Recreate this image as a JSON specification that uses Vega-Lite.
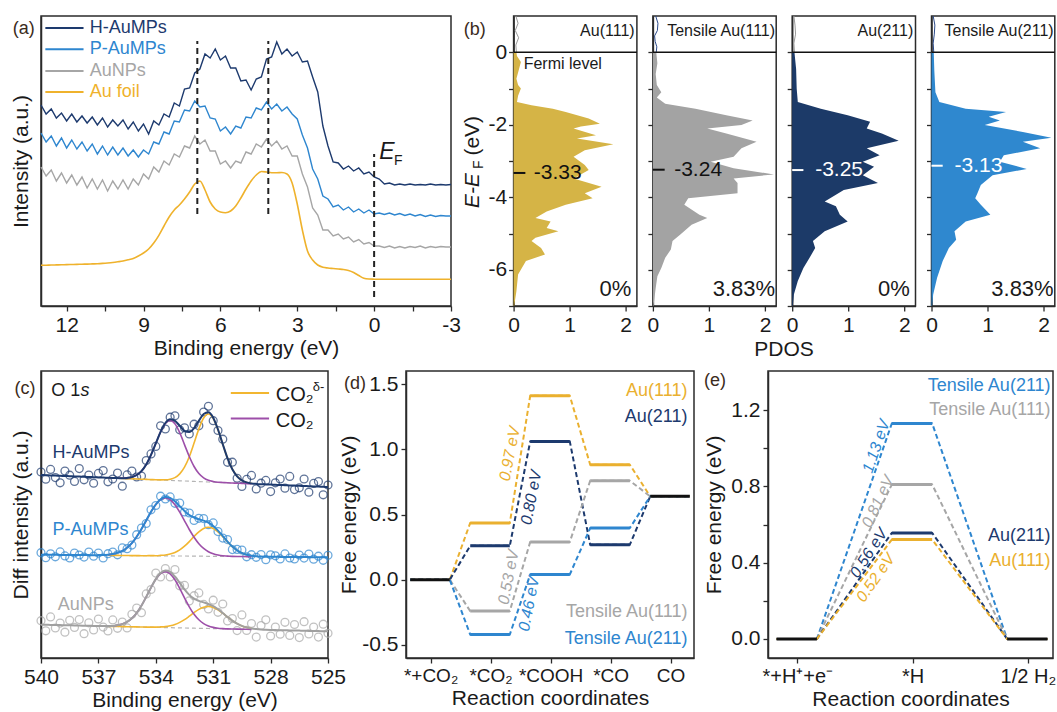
{
"$schema": "https://vega.github.io/schema/vega-lite/v6.json",
"padding": {"left": 9, "top": 13, "right": 0, "bottom": 0},
"background": "white",
"config": {
 "font": "Liberation Sans",
 "view": {"stroke": "#2b2b2b", "strokeWidth": 1.5},
 "axis": {"labelFontSize": 21, "titleFontSize": 21, "titleFontWeight": "normal", "labelColor": "#1a1a1a", "titleColor": "#1a1a1a", "domainColor": "#2b2b2b", "domainWidth": 1.5, "tickColor": "#2b2b2b", "tickWidth": 1.3, "tickSize": 5, "grid": false, "labelPadding": 3, "titlePadding": 2, "labelFlush": false, "labelOverlap": false},
 "text": {"font": "Liberation Sans"}
},
"datasets": {
 "aSpec": [
  {"x":13.0,"h":201,"p":173,"n":139,"f":40.7},{"x":12.8,"h":192,"p":164,"n":130,"f":40.8},{"x":12.6,"h":197,"p":170,"n":136,"f":41.0},{"x":12.4,"h":188,"p":160,"n":125,"f":41.1},{"x":12.2,"h":193,"p":168,"n":133,"f":41.2},{"x":12.0,"h":185,"p":158,"n":123,"f":41.4},{"x":11.8,"h":192,"p":166,"n":131,"f":41.5},{"x":11.6,"h":184,"p":157,"n":121,"f":41.6},{"x":11.4,"h":190,"p":164,"n":129,"f":41.8},{"x":11.2,"h":183,"p":155,"n":118,"f":41.9},
  {"x":11.0,"h":189,"p":162,"n":127,"f":42.1},{"x":10.8,"h":181,"p":152,"n":117,"f":42.3},{"x":10.6,"h":188,"p":160,"n":126,"f":42.6},{"x":10.4,"h":179,"p":151,"n":115,"f":43.0},{"x":10.2,"h":186,"p":159,"n":125,"f":43.5},{"x":10.0,"h":180,"p":151,"n":117,"f":44.2},{"x":9.8,"h":186,"p":158,"n":126,"f":45.0},{"x":9.6,"h":177,"p":150,"n":117,"f":46.2},{"x":9.4,"h":184,"p":156,"n":127,"f":47.6},{"x":9.2,"h":175,"p":149,"n":121,"f":50},
  {"x":9.0,"h":182,"p":156,"n":132,"f":53},{"x":8.8,"h":172,"p":152,"n":127,"f":57},{"x":8.6,"h":185,"p":164,"n":139,"f":63},{"x":8.4,"h":181,"p":162,"n":134,"f":70.7},{"x":8.2,"h":192,"p":174,"n":145,"f":80},{"x":8.0,"h":189,"p":172,"n":141,"f":89},{"x":7.8,"h":203,"p":185,"n":152,"f":96},{"x":7.6,"h":200,"p":184,"n":149,"f":101},{"x":7.4,"h":217,"p":196,"n":160,"f":107},{"x":7.2,"h":218,"p":195,"n":158,"f":114},
  {"x":7.0,"h":233,"p":205,"n":170,"f":122},{"x":6.8,"h":237,"p":199,"n":162,"f":125},{"x":6.6,"h":252,"p":200,"n":166,"f":116},{"x":6.4,"h":248,"p":188,"n":155,"f":104},{"x":6.2,"h":257,"p":187,"n":155,"f":97},{"x":6.0,"h":246,"p":175,"n":142,"f":94},{"x":5.8,"h":250,"p":179,"n":145,"f":93.3},{"x":5.6,"h":238,"p":172,"n":138,"f":95},{"x":5.4,"h":238,"p":180,"n":145,"f":100},{"x":5.2,"h":225,"p":178,"n":143,"f":108},
  {"x":5.0,"h":226,"p":189,"n":154,"f":117},{"x":4.8,"h":216,"p":188,"n":152,"f":125},{"x":4.6,"h":227,"p":198,"n":162,"f":131},{"x":4.4,"h":229,"p":196,"n":159,"f":134.5},{"x":4.2,"h":247,"p":204,"n":167,"f":134},{"x":4.0,"h":249,"p":197,"n":160,"f":133.3},{"x":3.8,"h":264,"p":202,"n":165,"f":133.3},{"x":3.6,"h":252,"p":195,"n":157,"f":133.5},{"x":3.4,"h":257,"p":199,"n":160,"f":132},{"x":3.2,"h":250,"p":192,"n":150,"f":123},
  {"x":3.0,"h":254,"p":187,"n":150,"f":102},{"x":2.8,"h":244,"p":171,"n":132,"f":76},{"x":2.6,"h":245,"p":158,"n":119,"f":55},{"x":2.4,"h":229,"p":137,"n":98,"f":46},{"x":2.2,"h":214,"p":127,"n":91,"f":41},{"x":2.0,"h":180,"p":110,"n":76,"f":38.8},{"x":1.8,"h":160,"p":107,"n":76,"f":38},{"x":1.6,"h":144,"p":99,"n":70,"f":37.5},{"x":1.4,"h":143,"p":101,"n":72,"f":37},{"x":1.2,"h":137,"p":96,"n":67,"f":36.5},
  {"x":1.0,"h":140,"p":99,"n":69,"f":35.5},{"x":0.8,"h":135,"p":94,"n":64,"f":33.5},{"x":0.6,"h":138,"p":97,"n":66.5,"f":30.5},{"x":0.4,"h":132,"p":93,"n":62,"f":27.8},{"x":0.2,"h":134,"p":96,"n":63.5,"f":27},{"x":0.0,"h":129,"p":92,"n":60,"f":26.8},{"x":-0.2,"h":127,"p":93,"n":60,"f":26.7},{"x":-0.4,"h":122,"p":91.5,"n":58.5,"f":26.7},{"x":-0.6,"h":123,"p":93,"n":60,"f":26.7},{"x":-0.8,"h":121,"p":91,"n":58,"f":26.7},
  {"x":-1.0,"h":122,"p":92.5,"n":59.5,"f":26.7},{"x":-1.2,"h":121,"p":90.5,"n":58,"f":26.7},{"x":-1.4,"h":122,"p":92,"n":59.5,"f":26.7},{"x":-1.6,"h":121,"p":90,"n":58.5,"f":26.7},{"x":-1.8,"h":121.5,"p":91.5,"n":60,"f":26.7},{"x":-2.0,"h":121,"p":89.5,"n":58,"f":26.7},{"x":-2.2,"h":122,"p":91,"n":59.5,"f":26.7},{"x":-2.4,"h":121,"p":89.5,"n":58.5,"f":26.7},{"x":-2.6,"h":121.5,"p":90.5,"n":59.5,"f":26.7},{"x":-2.8,"h":121,"p":90,"n":59,"f":26.7},{"x":-3.0,"h":121.5,"p":90,"n":59,"f":26.7}
 ],
 "bDos": [
  {"p":"b1","e":1.0,"v":0.04},{"p":"b1","e":0.8,"v":0.08},{"p":"b1","e":0.6,"v":0.03},{"p":"b1","e":0.4,"v":0.09},{"p":"b1","e":0.2,"v":0.04},{"p":"b1","e":0.0,"v":0.05},{"p":"b1","e":-0.1,"v":0.06},{"p":"b1","e":-0.27,"v":0.13},{"p":"b1","e":-0.5,"v":0.09},{"p":"b1","e":-0.73,"v":0.05},{"p":"b1","e":-0.9,"v":0.08},{"p":"b1","e":-1.0,"v":0.13},{"p":"b1","e":-1.2,"v":0.08},{"p":"b1","e":-1.37,"v":0.06},{"p":"b1","e":-1.46,"v":0.32},{"p":"b1","e":-1.56,"v":0.7},{"p":"b1","e":-1.65,"v":0.93},{"p":"b1","e":-1.83,"v":1.34},{"p":"b1","e":-1.97,"v":1.54},{"p":"b1","e":-2.05,"v":1.2},{"p":"b1","e":-2.1,"v":1.07},{"p":"b1","e":-2.29,"v":1.47},{"p":"b1","e":-2.38,"v":1.13},{"p":"b1","e":-2.54,"v":1.78},{"p":"b1","e":-2.7,"v":1.27},{"p":"b1","e":-2.88,"v":1.07},{"p":"b1","e":-3.11,"v":1.27},{"p":"b1","e":-3.25,"v":1.34},{"p":"b1","e":-3.48,"v":1.07},{"p":"b1","e":-3.71,"v":1.57},{"p":"b1","e":-3.89,"v":1.27},{"p":"b1","e":-4.03,"v":1.41},{"p":"b1","e":-4.21,"v":0.93},{"p":"b1","e":-4.39,"v":0.59},{"p":"b1","e":-4.57,"v":0.39},{"p":"b1","e":-4.67,"v":0.66},{"p":"b1","e":-4.85,"v":0.59},{"p":"b1","e":-4.94,"v":0.8},{"p":"b1","e":-5.12,"v":0.39},{"p":"b1","e":-5.21,"v":0.32},{"p":"b1","e":-5.4,"v":0.49},{"p":"b1","e":-5.58,"v":0.56},{"p":"b1","e":-5.76,"v":0.22},{"p":"b1","e":-6.13,"v":0.08},{"p":"b1","e":-6.59,"v":0.05},{"p":"b1","e":-7.0,"v":0.01},
  {"p":"b2","e":1.0,"v":0.05},{"p":"b2","e":0.8,"v":0.09},{"p":"b2","e":0.6,"v":0.08},{"p":"b2","e":0.45,"v":0.03},{"p":"b2","e":0.3,"v":0.04},{"p":"b2","e":0.15,"v":0.07},{"p":"b2","e":0.0,"v":0.06},{"p":"b2","e":-0.3,"v":0.08},{"p":"b2","e":-0.6,"v":0.05},{"p":"b2","e":-0.9,"v":0.07},{"p":"b2","e":-1.1,"v":0.15},{"p":"b2","e":-1.25,"v":0.07},{"p":"b2","e":-1.42,"v":0.22},{"p":"b2","e":-1.56,"v":0.76},{"p":"b2","e":-1.74,"v":1.31},{"p":"b2","e":-1.88,"v":1.78},{"p":"b2","e":-2.01,"v":1.58},{"p":"b2","e":-2.1,"v":0.97},{"p":"b2","e":-2.24,"v":1.31},{"p":"b2","e":-2.47,"v":1.85},{"p":"b2","e":-2.65,"v":1.58},{"p":"b2","e":-2.88,"v":1.44},{"p":"b2","e":-3.02,"v":1.03},{"p":"b2","e":-3.2,"v":1.44},{"p":"b2","e":-3.37,"v":2.16},{"p":"b2","e":-3.48,"v":1.44},{"p":"b2","e":-3.61,"v":1.51},{"p":"b2","e":-3.89,"v":1.51},{"p":"b2","e":-4.03,"v":0.63},{"p":"b2","e":-4.21,"v":0.56},{"p":"b2","e":-4.48,"v":0.83},{"p":"b2","e":-4.57,"v":0.97},{"p":"b2","e":-4.76,"v":0.69},{"p":"b2","e":-5.03,"v":0.49},{"p":"b2","e":-5.21,"v":0.35},{"p":"b2","e":-5.44,"v":0.32},{"p":"b2","e":-5.67,"v":0.22},{"p":"b2","e":-5.95,"v":0.15},{"p":"b2","e":-6.18,"v":0.08},{"p":"b2","e":-6.5,"v":0.05},{"p":"b2","e":-7.0,"v":0.01},
  {"p":"b3","e":1.0,"v":0.03},{"p":"b3","e":0.75,"v":0.05},{"p":"b3","e":0.5,"v":0.06},{"p":"b3","e":0.25,"v":0.03},{"p":"b3","e":0.0,"v":0.04},{"p":"b3","e":-0.46,"v":0.07},{"p":"b3","e":-1.0,"v":0.08},{"p":"b3","e":-1.37,"v":0.1},{"p":"b3","e":-1.56,"v":0.51},{"p":"b3","e":-1.74,"v":0.99},{"p":"b3","e":-1.92,"v":1.39},{"p":"b3","e":-2.1,"v":1.33},{"p":"b3","e":-2.24,"v":1.6},{"p":"b3","e":-2.44,"v":1.9},{"p":"b3","e":-2.65,"v":1.33},{"p":"b3","e":-2.84,"v":1.56},{"p":"b3","e":-3.02,"v":1.26},{"p":"b3","e":-3.16,"v":1.46},{"p":"b3","e":-3.39,"v":1.26},{"p":"b3","e":-3.61,"v":1.53},{"p":"b3","e":-3.8,"v":0.92},{"p":"b3","e":-3.93,"v":0.78},{"p":"b3","e":-4.12,"v":0.58},{"p":"b3","e":-4.25,"v":0.78},{"p":"b3","e":-4.48,"v":0.85},{"p":"b3","e":-4.67,"v":0.99},{"p":"b3","e":-4.94,"v":0.58},{"p":"b3","e":-5.21,"v":0.37},{"p":"b3","e":-5.4,"v":0.41},{"p":"b3","e":-5.67,"v":0.31},{"p":"b3","e":-5.95,"v":0.2},{"p":"b3","e":-6.31,"v":0.1},{"p":"b3","e":-6.68,"v":0.03},{"p":"b3","e":-7.0,"v":0.01},
  {"p":"b4","e":1.0,"v":0.03},{"p":"b4","e":0.75,"v":0.06},{"p":"b4","e":0.5,"v":0.05},{"p":"b4","e":0.25,"v":0.03},{"p":"b4","e":0.0,"v":0.04},{"p":"b4","e":-0.5,"v":0.05},{"p":"b4","e":-1.1,"v":0.07},{"p":"b4","e":-1.37,"v":0.14},{"p":"b4","e":-1.56,"v":0.61},{"p":"b4","e":-1.65,"v":1.33},{"p":"b4","e":-1.78,"v":1.02},{"p":"b4","e":-1.88,"v":1.22},{"p":"b4","e":-2.01,"v":0.95},{"p":"b4","e":-2.2,"v":1.63},{"p":"b4","e":-2.36,"v":2.14},{"p":"b4","e":-2.47,"v":1.63},{"p":"b4","e":-2.65,"v":1.94},{"p":"b4","e":-2.84,"v":1.29},{"p":"b4","e":-3.02,"v":1.22},{"p":"b4","e":-3.22,"v":1.7},{"p":"b4","e":-3.39,"v":1.09},{"p":"b4","e":-3.66,"v":0.88},{"p":"b4","e":-3.89,"v":0.82},{"p":"b4","e":-4.03,"v":0.78},{"p":"b4","e":-4.21,"v":0.88},{"p":"b4","e":-4.48,"v":1.05},{"p":"b4","e":-4.67,"v":0.61},{"p":"b4","e":-4.94,"v":0.41},{"p":"b4","e":-5.17,"v":0.44},{"p":"b4","e":-5.4,"v":0.31},{"p":"b4","e":-5.76,"v":0.2},{"p":"b4","e":-6.22,"v":0.1},{"p":"b4","e":-6.68,"v":0.03},{"p":"b4","e":-7.0,"v":0.01}
 ],
 "cData": [
  {"x":540,"hf":183.0,"ho":186,"pf":103.3,"po":105.3,"nf":33.3,"no":37.3},
  {"x":539.75,"hf":182.8,"ho":178.8,"pf":103.3,"po":100.3,"nf":33.2,"no":27.2},
  {"x":539.5,"hf":182.6,"ho":188.6,"pf":103.2,"po":104.2,"nf":33.1,"no":41.1},
  {"x":539.25,"hf":182.4,"ho":180.4,"pf":103.2,"po":101.2,"nf":33.0,"no":30.0},
  {"x":539,"hf":182.2,"ho":175.2,"pf":103.1,"po":106.1,"nf":32.9,"no":34.9},
  {"x":538.75,"hf":182.0,"ho":187,"pf":103.1,"po":102.1,"nf":32.8,"no":25.8},
  {"x":538.5,"hf":181.8,"ho":182.8,"pf":103.0,"po":100.0,"nf":32.7,"no":37.7},
  {"x":538.25,"hf":181.6,"ho":176.6,"pf":103.0,"po":105.0,"nf":32.6,"no":30.6},
  {"x":538,"hf":181.4,"ho":189.4,"pf":103.0,"po":103.0,"nf":32.4,"no":38.4},
  {"x":537.75,"hf":181.2,"ho":178.2,"pf":102.9,"po":100.9,"nf":32.3,"no":24.3},
  {"x":537.5,"hf":181.0,"ho":183,"pf":102.9,"po":105.9,"nf":32.2,"no":35.2},
  {"x":537.25,"hf":180.8,"ho":174.8,"pf":102.8,"po":101.8,"nf":32.1,"no":28.1},
  {"x":537,"hf":180.6,"ho":184.6,"pf":102.9,"po":104.9,"nf":32.0,"no":39.0},
  {"x":536.75,"hf":180.4,"ho":187.4,"pf":103.0,"po":100.0,"nf":31.9,"no":30.9},
  {"x":536.5,"hf":180.2,"ho":176.2,"hc":180.2,"hd":180.2,"hb":180.2,"pf":103.3,"po":104.3,"pc":103.3,"pd":102.7,"pb":102.7,"nf":32.0,"no":27.0,"nc":32.0,"nd":31.8,"nb":31.8},
  {"x":536.25,"hf":180.0,"ho":179,"hc":180.0,"hd":180.0,"hb":180.0,"pf":103.9,"po":105.9,"pc":103.9,"pd":102.6,"pb":102.6,"nf":32.1,"no":38.1,"nc":32.1,"nd":31.6,"nb":31.6},
  {"x":536,"hf":179.9,"ho":184.9,"hc":179.9,"hd":179.8,"hb":179.8,"pf":105.2,"po":103.2,"pc":105.2,"pd":102.6,"pb":102.6,"nf":32.7,"no":29.7,"nc":32.7,"nd":31.5,"nb":31.5},
  {"x":535.75,"hf":179.8,"ho":171.8,"hc":179.8,"hd":179.6,"hb":179.6,"pf":107.1,"po":110.1,"pc":107.1,"pd":102.5,"pb":102.5,"nf":33.9,"no":35.9,"nc":33.9,"nd":31.4,"nb":31.4},
  {"x":535.5,"hf":180.1,"ho":183.1,"hc":180.1,"hd":179.4,"hb":179.4,"pf":110.3,"po":109.3,"pc":110.3,"pd":102.5,"pb":102.5,"nf":36.1,"no":30.1,"nc":36.1,"nd":31.3,"nb":31.3},
  {"x":535.25,"hf":180.9,"ho":186.9,"hc":180.9,"hd":179.2,"hb":179.2,"pf":114.9,"po":112.9,"pc":114.9,"pd":102.4,"pb":102.4,"nf":39.7,"no":43.7,"nc":39.7,"nd":31.2,"nb":31.2},
  {"x":535,"hf":183.0,"ho":181,"hc":183.0,"hd":179.0,"hb":179.0,"pf":121.3,"po":123.3,"pc":121.3,"pd":102.4,"pb":102.4,"nf":45.0,"no":50.0,"nc":45.0,"nd":31.1,"nb":31.1},
  {"x":534.75,"hf":186.9,"ho":181.9,"hc":186.9,"hd":178.8,"hb":178.8,"pf":128.9,"po":129.9,"pc":128.9,"pd":102.3,"pb":102.3,"nf":52.3,"no":45.3,"nc":52.3,"nd":31.0,"nb":31.0},
  {"x":534.5,"hf":193.5,"ho":197.5,"hc":193.5,"hd":178.6,"hb":178.6,"pf":137.5,"po":134.5,"pc":137.5,"pd":102.3,"pb":102.3,"nf":61.1,"no":64.1,"nc":61.1,"nd":30.9,"nb":30.9},
  {"x":534.25,"hf":203.1,"ho":204.1,"hc":203.1,"hd":178.4,"hb":178.4,"pf":146.2,"po":148.2,"pc":146.1,"pd":102.4,"pb":102.3,"nf":70.5,"no":68.5,"nc":70.4,"nd":30.9,"nb":30.8},
  {"x":534,"hf":214.6,"ho":211.6,"hc":214.6,"hd":178.2,"hb":178.2,"pf":153.5,"po":152.5,"pc":153.4,"pd":102.3,"pb":102.2,"nf":78.9,"no":84.9,"nc":78.7,"nd":30.9,"nb":30.7},
  {"x":533.75,"hf":226.2,"ho":232.2,"hc":226.1,"hd":178.1,"hb":178.0,"pf":158.8,"po":161.8,"pc":158.4,"pd":102.6,"pb":102.2,"nf":85.0,"no":81.0,"nc":84.5,"nd":31.1,"nb":30.6},
  {"x":533.5,"hf":235.0,"ho":229,"hc":234.6,"hd":178.2,"hb":177.8,"pf":161.0,"po":159.0,"pc":160.1,"pd":103.0,"pb":102.1,"nf":87.4,"no":89.4,"nc":86.4,"nd":31.4,"nb":30.4},
  {"x":533.25,"hf":238.8,"ho":240.8,"hc":237.6,"hd":178.8,"hb":177.6,"pf":160.1,"po":161.1,"pc":158.3,"pd":103.9,"pb":102.1,"nf":86.1,"no":81.1,"nc":84.2,"nd":32.2,"nb":30.3},
  {"x":533,"hf":237.2,"ho":242.2,"hc":234.2,"hd":180.4,"hb":177.4,"pf":156.7,"po":154.7,"pc":153.2,"pd":105.5,"pb":102.0,"nf":81.5,"no":88.5,"nc":78.2,"nd":33.5,"nb":30.2},
  {"x":532.75,"hf":232.2,"ho":228.2,"hc":225.3,"hd":184.1,"hb":177.2,"pf":151.9,"po":154.9,"pc":145.8,"pd":108.1,"pb":102.0,"nf":75.2,"no":72.2,"nc":69.7,"nd":35.6,"nb":30.1},
  {"x":532.5,"hf":227.2,"ho":230.2,"hc":213.4,"hd":190.8,"hb":177.0,"pf":147.0,"po":146.0,"pc":137.2,"pd":111.8,"pb":102.0,"nf":68.6,"no":72.6,"nc":60.2,"nd":38.4,"nb":30.0},
  {"x":532.25,"hf":226.0,"ho":224,"hc":201.5,"hd":201.3,"hb":176.8,"pf":143.0,"po":145.0,"pc":128.5,"pd":116.4,"pb":101.9,"nf":63.1,"no":57.1,"nc":51.2,"nd":41.8,"nb":29.9},
  {"x":532,"hf":229.8,"ho":233.8,"hc":191.5,"hd":214.9,"hb":176.6,"pf":140.5,"po":137.5,"pc":120.8,"pd":121.6,"pb":101.9,"nf":59.3,"no":62.3,"nc":43.7,"nd":45.4,"nb":29.8},
  {"x":531.75,"hf":237.2,"ho":232.2,"hc":184.5,"hd":229.1,"hb":176.4,"pf":138.7,"po":139.7,"pc":114.3,"pd":126.2,"pb":101.8,"nf":57.1,"no":65.1,"nc":38.2,"nd":48.6,"nb":29.7},
  {"x":531.5,"hf":244.0,"ho":246,"hc":180.2,"hd":240.0,"hb":176.2,"pf":137.4,"po":139.4,"pc":109.6,"pd":129.6,"pb":101.8,"nf":55.6,"no":53.6,"nc":34.4,"nd":50.8,"nb":29.6},
  {"x":531.25,"hf":245.7,"ho":251.7,"hc":177.7,"hd":244.0,"hb":176.0,"pf":135.3,"po":133.3,"pc":106.3,"pd":130.7,"pb":101.7,"nf":54.0,"no":49.0,"nc":32.0,"nd":51.5,"nb":29.5},
  {"x":531,"hf":240.3,"ho":237.3,"hc":176.5,"hd":239.6,"hb":175.8,"pf":132.1,"po":135.1,"pc":104.3,"pd":129.5,"pb":101.7,"nf":51.8,"no":57.8,"nc":30.6,"nd":50.6,"nb":29.4},
  {"x":530.75,"hf":228.5,"ho":227.5,"hc":175.8,"hd":228.3,"hb":175.6,"pf":127.4,"po":126.4,"pc":103.0,"pd":126.1,"pb":101.7,"nf":48.7,"no":45.7,"nc":29.8,"nd":48.2,"nb":29.3},
  {"x":530.5,"hf":213.8,"ho":218.8,"hc":175.5,"hd":213.7,"hb":175.4,"pf":121.9,"po":119.9,"pc":102.2,"pd":121.3,"pb":101.6,"nf":45.0,"no":54.0,"nc":29.4,"nd":44.8,"nb":29.2},
  {"x":530.25,"hf":199.7,"ho":195.7,"hc":175.2,"hd":199.7,"hb":175.2,"pf":116.4,"po":118.4,"pc":101.9,"pd":116.1,"pb":101.6,"nf":41.0,"no":37.0,"nc":29.1,"nd":41.0,"nb":29.1},
  {"x":530,"hf":188.8,"ho":195.8,"hc":175.0,"hd":188.8,"hb":175.0,"pf":111.4,"po":108.4,"pc":101.6,"pd":111.3,"pb":101.5,"nf":37.4,"no":39.4,"nc":29.0,"nd":37.4,"nb":29.0},
  {"x":529.75,"hf":181.7,"ho":179.7,"hc":174.8,"hd":181.7,"hb":174.8,"pf":107.6,"po":108.6,"pc":101.5,"pd":107.6,"pb":101.5,"nf":34.4,"no":27.4,"nc":28.9,"nd":34.4,"nb":28.9},
  {"x":529.5,"hf":177.6,"ho":171.6,"hc":174.6,"hd":177.6,"hb":174.6,"pf":105.0,"po":108.0,"pc":101.5,"pd":105.0,"pb":101.5,"nf":32.1,"no":43.1,"nc":28.8,"nd":32.1,"nb":28.8},
  {"x":529.25,"hf":175.6,"ho":178.6,"hc":174.4,"hd":175.6,"hb":174.4,"pf":103.2,"po":101.2,"pc":101.4,"pd":103.2,"pb":101.4,"nf":30.6,"no":27.6,"nc":28.7,"nd":30.6,"nb":28.7},
  {"x":529,"hf":174.6,"ho":182.6,"hc":174.2,"hd":174.6,"hb":174.2,"pf":102.3,"po":103.3,"pc":101.4,"pd":102.3,"pb":101.4,"nf":29.5,"no":34.5,"nc":28.5,"nd":29.5,"nb":28.5},
  {"x":528.75,"hf":174.1,"ho":169.1,"pf":101.7,"po":100.7,"nf":28.9,"no":20.9},
  {"x":528.5,"hf":173.8,"ho":174.8,"pf":101.4,"po":103.4,"nf":28.5,"no":32.5},
  {"x":528.25,"hf":173.6,"ho":177.6,"pf":101.3,"po":98.3,"nf":28.2,"no":38.2},
  {"x":528,"hf":173.4,"ho":166.4,"pf":101.2,"po":103.2,"nf":28.0,"no":22.0},
  {"x":527.75,"hf":173.2,"ho":175.2,"pf":101.2,"po":102.2,"nf":27.9,"no":30.9},
  {"x":527.5,"hf":173.0,"ho":179,"pf":101.1,"po":99.1,"nf":27.8,"no":23.8},
  {"x":527.25,"hf":172.8,"ho":169.8,"pf":101.1,"po":104.1,"nf":27.7,"no":35.7},
  {"x":527,"hf":172.6,"ho":181.6,"pf":101.0,"po":100.0,"nf":27.6,"no":22.6},
  {"x":526.75,"hf":172.4,"ho":168.4,"pf":101.0,"po":99.0,"nf":27.5,"no":33.5},
  {"x":526.5,"hf":172.2,"ho":170.2,"pf":101.0,"po":103.0,"nf":27.4,"no":20.4},
  {"x":526.25,"hf":172.0,"ho":179,"pf":100.9,"po":99.9,"nf":27.3,"no":36.3},
  {"x":526,"hf":171.8,"ho":165.8,"pf":100.9,"po":103.9,"nf":27.1,"no":24.1},
  {"x":525.75,"hf":171.6,"ho":174.6,"pf":100.8,"po":98.8,"nf":27.0,"no":31.0},
  {"x":525.5,"hf":171.4,"ho":176.4,"pf":100.8,"po":101.8,"nf":26.9,"no":20.9},
  {"x":525.25,"hf":171.2,"ho":163.2,"pf":100.7,"po":97.7,"nf":26.8,"no":33.8},
  {"x":525,"hf":171.0,"ho":173,"pf":100.7,"po":102.7,"nf":26.7,"no":24.7}
 ],
 "dPts": [
  {"s":"Au(111)","lv":0,"x":-0.34,"g":0},{"s":"Au(111)","lv":0,"x":0.32,"g":0},{"s":"Au(111)","lv":1,"x":0.66,"g":0.435},{"s":"Au(111)","lv":1,"x":1.32,"g":0.435},{"s":"Au(111)","lv":2,"x":1.66,"g":1.41},{"s":"Au(111)","lv":2,"x":2.32,"g":1.41},{"s":"Au(111)","lv":3,"x":2.66,"g":0.882},{"s":"Au(111)","lv":3,"x":3.32,"g":0.882},{"s":"Au(111)","lv":4,"x":3.66,"g":0.639},{"s":"Au(111)","lv":4,"x":4.32,"g":0.639},
  {"s":"Au(211)","lv":0,"x":-0.34,"g":0},{"s":"Au(211)","lv":0,"x":0.32,"g":0},{"s":"Au(211)","lv":1,"x":0.66,"g":0.26},{"s":"Au(211)","lv":1,"x":1.32,"g":0.26},{"s":"Au(211)","lv":2,"x":1.66,"g":1.06},{"s":"Au(211)","lv":2,"x":2.32,"g":1.06},{"s":"Au(211)","lv":3,"x":2.66,"g":0.268},{"s":"Au(211)","lv":3,"x":3.32,"g":0.268},{"s":"Au(211)","lv":4,"x":3.66,"g":0.639},{"s":"Au(211)","lv":4,"x":4.32,"g":0.639},
  {"s":"Tensile Au(111)","lv":0,"x":-0.34,"g":0},{"s":"Tensile Au(111)","lv":0,"x":0.32,"g":0},{"s":"Tensile Au(111)","lv":1,"x":0.66,"g":-0.24},{"s":"Tensile Au(111)","lv":1,"x":1.32,"g":-0.24},{"s":"Tensile Au(111)","lv":2,"x":1.66,"g":0.29},{"s":"Tensile Au(111)","lv":2,"x":2.32,"g":0.29},{"s":"Tensile Au(111)","lv":3,"x":2.66,"g":0.759},{"s":"Tensile Au(111)","lv":3,"x":3.32,"g":0.759},{"s":"Tensile Au(111)","lv":4,"x":3.66,"g":0.639},{"s":"Tensile Au(111)","lv":4,"x":4.32,"g":0.639},
  {"s":"Tensile Au(211)","lv":0,"x":-0.34,"g":0},{"s":"Tensile Au(211)","lv":0,"x":0.32,"g":0},{"s":"Tensile Au(211)","lv":1,"x":0.66,"g":-0.42},{"s":"Tensile Au(211)","lv":1,"x":1.32,"g":-0.42},{"s":"Tensile Au(211)","lv":2,"x":1.66,"g":0.04},{"s":"Tensile Au(211)","lv":2,"x":2.32,"g":0.04},{"s":"Tensile Au(211)","lv":3,"x":2.66,"g":0.396},{"s":"Tensile Au(211)","lv":3,"x":3.32,"g":0.396},{"s":"Tensile Au(211)","lv":4,"x":3.66,"g":0.639},{"s":"Tensile Au(211)","lv":4,"x":4.32,"g":0.639}
 ],
 "ePts": [
  {"s":"Tensile Au(211)","lv":0,"x":-0.18,"g":0},{"s":"Tensile Au(211)","lv":0,"x":0.17,"g":0},{"s":"Tensile Au(211)","lv":1,"x":0.82,"g":1.13},{"s":"Tensile Au(211)","lv":1,"x":1.17,"g":1.13},{"s":"Tensile Au(211)","lv":2,"x":1.82,"g":0},{"s":"Tensile Au(211)","lv":2,"x":2.17,"g":0},
  {"s":"Tensile Au(111)","lv":0,"x":-0.18,"g":0},{"s":"Tensile Au(111)","lv":0,"x":0.17,"g":0},{"s":"Tensile Au(111)","lv":1,"x":0.82,"g":0.81},{"s":"Tensile Au(111)","lv":1,"x":1.17,"g":0.81},{"s":"Tensile Au(111)","lv":2,"x":1.82,"g":0},{"s":"Tensile Au(111)","lv":2,"x":2.17,"g":0},
  {"s":"Au(211)","lv":0,"x":-0.18,"g":0},{"s":"Au(211)","lv":0,"x":0.17,"g":0},{"s":"Au(211)","lv":1,"x":0.82,"g":0.556},{"s":"Au(211)","lv":1,"x":1.17,"g":0.556},{"s":"Au(211)","lv":2,"x":1.82,"g":0},{"s":"Au(211)","lv":2,"x":2.17,"g":0},
  {"s":"Au(111)","lv":0,"x":-0.18,"g":0},{"s":"Au(111)","lv":0,"x":0.17,"g":0},{"s":"Au(111)","lv":1,"x":0.82,"g":0.521},{"s":"Au(111)","lv":1,"x":1.17,"g":0.521},{"s":"Au(111)","lv":2,"x":1.82,"g":0},{"s":"Au(111)","lv":2,"x":2.17,"g":0}
 ]
},
"spacing": 9,
"vconcat": [
 {"bounds": "flush", "spacing": 15.3, "hconcat": [
  {"width": 410, "height": 290, "layer": [
   {"data": {"name": "aSpec"}, "mark": {"type": "line", "color": "#efb22c", "strokeWidth": 1.6, "interpolate": "monotone"},
    "encoding": {
     "x": {"field": "x", "type": "quantitative", "scale": {"domain": [-3, 13], "reverse": true, "nice": false, "zero": false}, "axis": {"title": "Binding energy (eV)", "values": [12, 10.5, 9, 7.5, 6, 4.5, 3, 1.5, 0, -1.5, -3], "labelExpr": "round(datum.value*10) % 30 == 0 ? '' + datum.value : ''"}},
     "y": {"field": "f", "type": "quantitative", "scale": {"domain": [0, 290], "nice": false, "zero": false}, "axis": {"title": "Intensity (a.u.)", "labels": false, "ticks": false, "titlePadding": 10}}}},
   {"data": {"name": "aSpec"}, "mark": {"type": "line", "color": "#a6a6a6", "strokeWidth": 1.4}, "encoding": {"x": {"field": "x", "type": "quantitative"}, "y": {"field": "n", "type": "quantitative"}}},
   {"data": {"name": "aSpec"}, "mark": {"type": "line", "color": "#2e86cf", "strokeWidth": 1.4}, "encoding": {"x": {"field": "x", "type": "quantitative"}, "y": {"field": "p", "type": "quantitative"}}},
   {"data": {"name": "aSpec"}, "mark": {"type": "line", "color": "#1d3a6e", "strokeWidth": 1.4}, "encoding": {"x": {"field": "x", "type": "quantitative"}, "y": {"field": "h", "type": "quantitative"}}},
   {"data": {"values": [{"x": 6.9, "y1": 92, "y2": 265}, {"x": 4.13, "y1": 92, "y2": 265}, {"x": 0, "y1": 9, "y2": 152}]}, "mark": {"type": "rule", "color": "#222222", "strokeWidth": 2, "strokeDash": [6, 4]}, "encoding": {"x": {"field": "x", "type": "quantitative"}, "y": {"field": "y1", "type": "quantitative"}, "y2": {"field": "y2"}}},
   {"data": {"values": [{"s": "H-AuMPs", "x1": 12.83, "x2": 11.34, "y": 278}, {"s": "P-AuMPs", "x1": 12.83, "x2": 11.34, "y": 256.7}, {"s": "AuNPs", "x1": 12.83, "x2": 11.34, "y": 235}, {"s": "Au foil", "x1": 12.83, "x2": 11.34, "y": 214}]}, "mark": {"type": "rule", "strokeWidth": 2}, "encoding": {"x": {"field": "x1", "type": "quantitative"}, "x2": {"field": "x2"}, "y": {"field": "y", "type": "quantitative"}, "color": {"field": "s", "type": "nominal", "scale": {"domain": ["H-AuMPs", "P-AuMPs", "AuNPs", "Au foil", "Au(111)", "Au(211)", "Tensile Au(111)", "Tensile Au(211)"], "range": ["#1d3a6e", "#2e86cf", "#a6a6a6", "#efb22c", "#eab02f", "#1d3a6e", "#a6a6a6", "#2e86cf"]}, "legend": null}}},
   {"data": {"values": [{"s": "H-AuMPs", "tx": 11.1, "y": 278}, {"s": "P-AuMPs", "tx": 11.1, "y": 256.7}, {"s": "AuNPs", "tx": 11.1, "y": 235}, {"s": "Au foil", "tx": 11.1, "y": 214}]}, "mark": {"type": "text", "align": "left", "baseline": "middle", "fontSize": 18}, "encoding": {"x": {"field": "tx", "type": "quantitative"}, "y": {"field": "y", "type": "quantitative"}, "text": {"field": "s"}, "color": {"field": "s", "type": "nominal", "scale": {"domain": ["H-AuMPs", "P-AuMPs", "AuNPs", "Au foil", "Au(111)", "Au(211)", "Tensile Au(111)", "Tensile Au(211)"], "range": ["#1d3a6e", "#2e86cf", "#a6a6a6", "#efb22c", "#eab02f", "#1d3a6e", "#a6a6a6", "#2e86cf"]}, "legend": null}}},
   {"data": {"values": [{"t": "(a)", "x": 14.1, "y": 277}]}, "mark": {"type": "text", "align": "left", "baseline": "middle", "fontSize": 18, "color": "#3b2b20"}, "encoding": {"x": {"field": "x", "type": "quantitative"}, "y": {"field": "y", "type": "quantitative"}, "text": {"field": "t"}}},
   {"data": {"values": [{"t": "E", "x": -0.2, "y": 147}]}, "mark": {"type": "text", "align": "left", "baseline": "alphabetic", "fontSize": 23, "fontStyle": "italic", "color": "#1a1a1a"}, "encoding": {"x": {"field": "x", "type": "quantitative"}, "y": {"field": "y", "type": "quantitative"}, "text": {"field": "t"}}},
   {"data": {"values": [{"t": "F", "x": -0.78, "y": 141}]}, "mark": {"type": "text", "align": "left", "baseline": "alphabetic", "fontSize": 14, "color": "#1a1a1a"}, "encoding": {"x": {"field": "x", "type": "quantitative"}, "y": {"field": "y", "type": "quantitative"}, "text": {"field": "t"}}}
  ]},
  {"width": 31.4, "height": 290, "data": {"values": []}, "mark": "point", "view": {"stroke": null}},
  {"width": 123.3, "height": 290, "layer": [
   {"data": {"name": "bDos"}, "transform": [{"filter": "datum.p == 'b1' && datum.e <= 0"}], "mark": {"type": "area", "orient": "horizontal", "color": "#d5b446"},
    "encoding": {
     "x": {"field": "v", "type": "quantitative", "scale": {"domain": [0, 2.2], "nice": false, "zero": false}, "axis": {"title": null, "values": [0, 0.5, 1, 1.5, 2], "labelExpr": "datum.value % 1 == 0 ? '' + datum.value : ''"}},
     "y": {"field": "e", "type": "quantitative", "scale": {"domain": [-7, 1], "nice": false, "zero": false}, "axis": {"title": null, "values": [-7, -6, -5, -4, -3, -2, -1, 0], "labelPadding": 2, "labelExpr": "datum.value % 2 == 0 ? '' + datum.value : ''"}}}},
   {"data": {"name": "bDos"}, "transform": [{"filter": "datum.p == 'b1' && datum.e >= 0"}], "mark": {"type": "line", "color": "#9a9a9a", "strokeWidth": 1}, "encoding": {"x": {"field": "v", "type": "quantitative"}, "y": {"field": "e", "type": "quantitative"}, "order": {"field": "e"}}},
   {"data": {"values": [{"e": 0}]}, "mark": {"type": "rule", "color": "#111111", "strokeWidth": 1.5}, "encoding": {"y": {"field": "e", "type": "quantitative"}}},
   {"data": {"values": [{"x": 0, "x2": 0.21, "e": -3.33}]}, "mark": {"type": "rule", "color": "#111111", "strokeWidth": 2}, "encoding": {"x": {"field": "x", "type": "quantitative"}, "x2": {"field": "x2"}, "y": {"field": "e", "type": "quantitative"}}},
   {"data": {"values": [{"t": "-3.33", "x": 0.36, "e": -3.33}]}, "mark": {"type": "text", "align": "left", "baseline": "middle", "fontSize": 21, "color": "#111111"}, "encoding": {"x": {"field": "x", "type": "quantitative"}, "y": {"field": "e", "type": "quantitative"}, "text": {"field": "t"}}},
   {"data": {"values": [{"t": "Au(111)", "x": 2.16, "e": 0.58}]}, "mark": {"type": "text", "align": "right", "baseline": "middle", "fontSize": 16, "color": "#1a1a1a"}, "encoding": {"x": {"field": "x", "type": "quantitative"}, "y": {"field": "e", "type": "quantitative"}, "text": {"field": "t"}}},
   {"data": {"values": [{"t": "0%", "x": 2.1, "e": -6.54}]}, "mark": {"type": "text", "align": "right", "baseline": "middle", "fontSize": 22, "color": "#1a1a1a"}, "encoding": {"x": {"field": "x", "type": "quantitative"}, "y": {"field": "e", "type": "quantitative"}, "text": {"field": "t"}}},
   {"data": {"values": [{"t": "Fermi level", "x": 0.18, "e": -0.32}]}, "mark": {"type": "text", "align": "left", "baseline": "middle", "fontSize": 16, "color": "#1a1a1a"}, "encoding": {"x": {"field": "x", "type": "quantitative"}, "y": {"field": "e", "type": "quantitative"}, "text": {"field": "t"}}},
   {"data": {"values": [{"t": "(b)", "x": -0.89, "e": 0.61}]}, "mark": {"type": "text", "align": "left", "baseline": "middle", "fontSize": 18, "color": "#3b2b20"}, "encoding": {"x": {"field": "x", "type": "quantitative"}, "y": {"field": "e", "type": "quantitative"}, "text": {"field": "t"}}},
   {"data": {"values": [{"t": "E-E", "x": -0.72, "e": -4.3}]}, "mark": {"type": "text", "align": "left", "baseline": "middle", "fontSize": 21, "fontStyle": "italic", "angle": 270, "color": "#1a1a1a"}, "encoding": {"x": {"field": "x", "type": "quantitative"}, "y": {"field": "e", "type": "quantitative"}, "text": {"field": "t"}}},
   {"data": {"values": [{"t": "F", "x": -0.62, "e": -3.22}]}, "mark": {"type": "text", "align": "left", "baseline": "middle", "fontSize": 14, "angle": 270, "color": "#1a1a1a"}, "encoding": {"x": {"field": "x", "type": "quantitative"}, "y": {"field": "e", "type": "quantitative"}, "text": {"field": "t"}}},
   {"data": {"values": [{"t": "(eV)", "x": -0.72, "e": -2.85}]}, "mark": {"type": "text", "align": "left", "baseline": "middle", "fontSize": 21, "angle": 270, "color": "#1a1a1a"}, "encoding": {"x": {"field": "x", "type": "quantitative"}, "y": {"field": "e", "type": "quantitative"}, "text": {"field": "t"}}}
  ]},
  {"width": 123.3, "height": 290, "layer": [
   {"data": {"name": "bDos"}, "transform": [{"filter": "datum.p == 'b2' && datum.e <= 0"}], "mark": {"type": "area", "orient": "horizontal", "color": "#a3a3a3"},
    "encoding": {
     "x": {"field": "v", "type": "quantitative", "scale": {"domain": [0, 2.2], "nice": false, "zero": false}, "axis": {"title": null, "values": [0, 0.5, 1, 1.5, 2], "labelExpr": "datum.value % 1 == 0 ? '' + datum.value : ''"}},
     "y": {"field": "e", "type": "quantitative", "scale": {"domain": [-7, 1], "nice": false, "zero": false}, "axis": {"title": null, "labels": false, "values": [-7, -6, -5, -4, -3, -2, -1, 0]}}}},
   {"data": {"name": "bDos"}, "transform": [{"filter": "datum.p == 'b2' && datum.e >= 0"}], "mark": {"type": "line", "color": "#2b4a8a", "strokeWidth": 1}, "encoding": {"x": {"field": "v", "type": "quantitative"}, "y": {"field": "e", "type": "quantitative"}, "order": {"field": "e"}}},
   {"data": {"values": [{"e": 0}]}, "mark": {"type": "rule", "color": "#111111", "strokeWidth": 1.5}, "encoding": {"y": {"field": "e", "type": "quantitative"}}},
   {"data": {"values": [{"x": 0, "x2": 0.21, "e": -3.24}]}, "mark": {"type": "rule", "color": "#111111", "strokeWidth": 2}, "encoding": {"x": {"field": "x", "type": "quantitative"}, "x2": {"field": "x2"}, "y": {"field": "e", "type": "quantitative"}}},
   {"data": {"values": [{"t": "-3.24", "x": 0.38, "e": -3.24}]}, "mark": {"type": "text", "align": "left", "baseline": "middle", "fontSize": 21, "color": "#111111"}, "encoding": {"x": {"field": "x", "type": "quantitative"}, "y": {"field": "e", "type": "quantitative"}, "text": {"field": "t"}}},
   {"data": {"values": [{"t": "Tensile Au(111)", "x": 2.18, "e": 0.58}]}, "mark": {"type": "text", "align": "right", "baseline": "middle", "fontSize": 16, "color": "#1a1a1a"}, "encoding": {"x": {"field": "x", "type": "quantitative"}, "y": {"field": "e", "type": "quantitative"}, "text": {"field": "t"}}},
   {"data": {"values": [{"t": "3.83%", "x": 2.18, "e": -6.54}]}, "mark": {"type": "text", "align": "right", "baseline": "middle", "fontSize": 22, "color": "#1a1a1a"}, "encoding": {"x": {"field": "x", "type": "quantitative"}, "y": {"field": "e", "type": "quantitative"}, "text": {"field": "t"}}},
   {"data": {"values": [{"t": "PDOS", "x": 2.34, "e": -8.2}]}, "mark": {"type": "text", "align": "center", "baseline": "middle", "fontSize": 21, "color": "#1a1a1a"}, "encoding": {"x": {"field": "x", "type": "quantitative"}, "y": {"field": "e", "type": "quantitative"}, "text": {"field": "t"}}}
  ]},
  {"width": 123.3, "height": 290, "layer": [
   {"data": {"name": "bDos"}, "transform": [{"filter": "datum.p == 'b3' && datum.e <= 0"}], "mark": {"type": "area", "orient": "horizontal", "color": "#1c3a68"},
    "encoding": {
     "x": {"field": "v", "type": "quantitative", "scale": {"domain": [0, 2.2], "nice": false, "zero": false}, "axis": {"title": null, "values": [0, 0.5, 1, 1.5, 2], "labelExpr": "datum.value % 1 == 0 ? '' + datum.value : ''"}},
     "y": {"field": "e", "type": "quantitative", "scale": {"domain": [-7, 1], "nice": false, "zero": false}, "axis": {"title": null, "labels": false, "values": [-7, -6, -5, -4, -3, -2, -1, 0]}}}},
   {"data": {"name": "bDos"}, "transform": [{"filter": "datum.p == 'b3' && datum.e >= 0"}], "mark": {"type": "line", "color": "#9a9a9a", "strokeWidth": 1}, "encoding": {"x": {"field": "v", "type": "quantitative"}, "y": {"field": "e", "type": "quantitative"}, "order": {"field": "e"}}},
   {"data": {"values": [{"e": 0}]}, "mark": {"type": "rule", "color": "#111111", "strokeWidth": 1.5}, "encoding": {"y": {"field": "e", "type": "quantitative"}}},
   {"data": {"values": [{"x": 0, "x2": 0.2, "e": -3.25}]}, "mark": {"type": "rule", "color": "#ffffff", "strokeWidth": 2}, "encoding": {"x": {"field": "x", "type": "quantitative"}, "x2": {"field": "x2"}, "y": {"field": "e", "type": "quantitative"}}},
   {"data": {"values": [{"t": "-3.25", "x": 0.41, "e": -3.25}]}, "mark": {"type": "text", "align": "left", "baseline": "middle", "fontSize": 21, "color": "#ffffff"}, "encoding": {"x": {"field": "x", "type": "quantitative"}, "y": {"field": "e", "type": "quantitative"}, "text": {"field": "t"}}},
   {"data": {"values": [{"t": "Au(211)", "x": 2.16, "e": 0.58}]}, "mark": {"type": "text", "align": "right", "baseline": "middle", "fontSize": 16, "color": "#1a1a1a"}, "encoding": {"x": {"field": "x", "type": "quantitative"}, "y": {"field": "e", "type": "quantitative"}, "text": {"field": "t"}}},
   {"data": {"values": [{"t": "0%", "x": 2.1, "e": -6.54}]}, "mark": {"type": "text", "align": "right", "baseline": "middle", "fontSize": 22, "color": "#1a1a1a"}, "encoding": {"x": {"field": "x", "type": "quantitative"}, "y": {"field": "e", "type": "quantitative"}, "text": {"field": "t"}}}
  ]},
  {"width": 123.3, "height": 290, "layer": [
   {"data": {"name": "bDos"}, "transform": [{"filter": "datum.p == 'b4' && datum.e <= 0"}], "mark": {"type": "area", "orient": "horizontal", "color": "#2f88cf"},
    "encoding": {
     "x": {"field": "v", "type": "quantitative", "scale": {"domain": [0, 2.2], "nice": false, "zero": false}, "axis": {"title": null, "values": [0, 0.5, 1, 1.5, 2], "labelExpr": "datum.value % 1 == 0 ? '' + datum.value : ''"}},
     "y": {"field": "e", "type": "quantitative", "scale": {"domain": [-7, 1], "nice": false, "zero": false}, "axis": {"title": null, "labels": false, "values": [-7, -6, -5, -4, -3, -2, -1, 0]}}}},
   {"data": {"name": "bDos"}, "transform": [{"filter": "datum.p == 'b4' && datum.e >= 0"}], "mark": {"type": "line", "color": "#2b4a8a", "strokeWidth": 1}, "encoding": {"x": {"field": "v", "type": "quantitative"}, "y": {"field": "e", "type": "quantitative"}, "order": {"field": "e"}}},
   {"data": {"values": [{"e": 0}]}, "mark": {"type": "rule", "color": "#111111", "strokeWidth": 1.5}, "encoding": {"y": {"field": "e", "type": "quantitative"}}},
   {"data": {"values": [{"x": 0, "x2": 0.2, "e": -3.13}]}, "mark": {"type": "rule", "color": "#ffffff", "strokeWidth": 2}, "encoding": {"x": {"field": "x", "type": "quantitative"}, "x2": {"field": "x2"}, "y": {"field": "e", "type": "quantitative"}}},
   {"data": {"values": [{"t": "-3.13", "x": 0.41, "e": -3.13}]}, "mark": {"type": "text", "align": "left", "baseline": "middle", "fontSize": 21, "color": "#ffffff"}, "encoding": {"x": {"field": "x", "type": "quantitative"}, "y": {"field": "e", "type": "quantitative"}, "text": {"field": "t"}}},
   {"data": {"values": [{"t": "Tensile Au(211)", "x": 2.18, "e": 0.58}]}, "mark": {"type": "text", "align": "right", "baseline": "middle", "fontSize": 16, "color": "#1a1a1a"}, "encoding": {"x": {"field": "x", "type": "quantitative"}, "y": {"field": "e", "type": "quantitative"}, "text": {"field": "t"}}},
   {"data": {"values": [{"t": "3.83%", "x": 2.18, "e": -6.54}]}, "mark": {"type": "text", "align": "right", "baseline": "middle", "fontSize": 22, "color": "#1a1a1a"}, "encoding": {"x": {"field": "x", "type": "quantitative"}, "y": {"field": "e", "type": "quantitative"}, "text": {"field": "t"}}}
  ]}
 ]},
 {"bounds": "flush", "spacing": 36, "hconcat": [
  {"width": 287, "height": 287, "layer": [
   {"data": {"name": "cData"}, "transform": [{"fold": ["hb", "pb", "nb"], "as": ["k", "v"]}, {"filter": "isValid(datum.v)"}], "mark": {"type": "line", "color": "#b5b5b5", "strokeWidth": 1.2, "strokeDash": [4, 3]},
    "encoding": {
     "x": {"field": "x", "type": "quantitative", "scale": {"domain": [525, 540], "reverse": true, "nice": false, "zero": false}, "axis": {"title": "Binding energy (eV)", "values": [540, 538.5, 537, 535.5, 534, 532.5, 531, 529.5, 528, 526.5, 525], "labelExpr": "round(datum.value*10) % 30 == 0 ? '' + datum.value : ''"}},
     "y": {"field": "v", "type": "quantitative", "scale": {"domain": [0, 287], "nice": false, "zero": false}, "axis": {"title": "Diff intensity (a.u.)", "labels": false, "ticks": false, "titlePadding": 10}},
     "detail": {"field": "k"}}},
   {"data": {"name": "cData"}, "mark": {"type": "point", "shape": "circle", "filled": false, "size": 62, "strokeWidth": 1.3, "color": "#a8a8a8"}, "encoding": {"x": {"field": "x", "type": "quantitative"}, "y": {"field": "no", "type": "quantitative"}}},
   {"data": {"name": "cData"}, "mark": {"type": "point", "shape": "circle", "filled": false, "size": 62, "strokeWidth": 1.3, "color": "#2e86cf"}, "encoding": {"x": {"field": "x", "type": "quantitative"}, "y": {"field": "po", "type": "quantitative"}}},
   {"data": {"name": "cData"}, "mark": {"type": "point", "shape": "circle", "filled": false, "size": 62, "strokeWidth": 1.3, "color": "#1d3a6e"}, "encoding": {"x": {"field": "x", "type": "quantitative"}, "y": {"field": "ho", "type": "quantitative"}}},
   {"data": {"name": "cData"}, "transform": [{"fold": ["hd", "pd", "nd"], "as": ["k", "v"]}, {"filter": "isValid(datum.v)"}], "mark": {"type": "line", "color": "#f2b630", "strokeWidth": 1.6, "interpolate": "monotone"}, "encoding": {"x": {"field": "x", "type": "quantitative"}, "y": {"field": "v", "type": "quantitative"}, "detail": {"field": "k"}}},
   {"data": {"name": "cData"}, "transform": [{"fold": ["hc", "pc", "nc"], "as": ["k", "v"]}, {"filter": "isValid(datum.v)"}], "mark": {"type": "line", "color": "#9d4fa9", "strokeWidth": 1.6, "interpolate": "monotone"}, "encoding": {"x": {"field": "x", "type": "quantitative"}, "y": {"field": "v", "type": "quantitative"}, "detail": {"field": "k"}}},
   {"data": {"name": "cData"}, "mark": {"type": "line", "color": "#a0a0a0", "strokeWidth": 2, "interpolate": "monotone"}, "encoding": {"x": {"field": "x", "type": "quantitative"}, "y": {"field": "nf", "type": "quantitative"}}},
   {"data": {"name": "cData"}, "mark": {"type": "line", "color": "#2e86cf", "strokeWidth": 2, "interpolate": "monotone"}, "encoding": {"x": {"field": "x", "type": "quantitative"}, "y": {"field": "pf", "type": "quantitative"}}},
   {"data": {"name": "cData"}, "mark": {"type": "line", "color": "#1d3a6e", "strokeWidth": 2, "interpolate": "monotone"}, "encoding": {"x": {"field": "x", "type": "quantitative"}, "y": {"field": "hf", "type": "quantitative"}}},
   {"data": {"values": [{"t": "(c)", "x": 541.39, "y": 268.7}]}, "mark": {"type": "text", "align": "left", "baseline": "middle", "fontSize": 18, "color": "#3b2b20"}, "encoding": {"x": {"field": "x", "type": "quantitative"}, "y": {"field": "y", "type": "quantitative"}, "text": {"field": "t"}}},
   {"data": {"values": [{"t": "O 1", "x": 539.46, "y": 266.7}]}, "mark": {"type": "text", "align": "left", "baseline": "middle", "fontSize": 18, "color": "#1a1a1a"}, "encoding": {"x": {"field": "x", "type": "quantitative"}, "y": {"field": "y", "type": "quantitative"}, "text": {"field": "t"}}},
   {"data": {"values": [{"t": "s", "x": 537.94, "y": 266.7}]}, "mark": {"type": "text", "align": "left", "baseline": "middle", "fontSize": 18, "fontStyle": "italic", "color": "#1a1a1a"}, "encoding": {"x": {"field": "x", "type": "quantitative"}, "y": {"field": "y", "type": "quantitative"}, "text": {"field": "t"}}},
   {"data": {"values": [{"t": "H-AuMPs", "x": 539.4, "y": 205}]}, "mark": {"type": "text", "align": "left", "baseline": "middle", "fontSize": 18, "color": "#1d3a6e"}, "encoding": {"x": {"field": "x", "type": "quantitative"}, "y": {"field": "y", "type": "quantitative"}, "text": {"field": "t"}}},
   {"data": {"values": [{"t": "P-AuMPs", "x": 539.4, "y": 128.4}]}, "mark": {"type": "text", "align": "left", "baseline": "middle", "fontSize": 18, "color": "#2e86cf"}, "encoding": {"x": {"field": "x", "type": "quantitative"}, "y": {"field": "y", "type": "quantitative"}, "text": {"field": "t"}}},
   {"data": {"values": [{"t": "AuNPs", "x": 539.13, "y": 53.4}]}, "mark": {"type": "text", "align": "left", "baseline": "middle", "fontSize": 18, "color": "#a8a8a8"}, "encoding": {"x": {"field": "x", "type": "quantitative"}, "y": {"field": "y", "type": "quantitative"}, "text": {"field": "t"}}},
   {"data": {"values": [{"x1": 530.08, "x2": 528.08, "y": 265}]}, "mark": {"type": "rule", "color": "#f2b630", "strokeWidth": 2}, "encoding": {"x": {"field": "x1", "type": "quantitative"}, "x2": {"field": "x2"}, "y": {"field": "y", "type": "quantitative"}}},
   {"data": {"values": [{"x1": 530.08, "x2": 528.08, "y": 239.4}]}, "mark": {"type": "rule", "color": "#9d4fa9", "strokeWidth": 2}, "encoding": {"x": {"field": "x1", "type": "quantitative"}, "x2": {"field": "x2"}, "y": {"field": "y", "type": "quantitative"}}},
   {"data": {"values": [{"t": "CO\u2082", "x": 527.73, "y": 263}, {"t": "CO\u2082", "x": 527.73, "y": 237.4}]}, "mark": {"type": "text", "align": "left", "baseline": "middle", "fontSize": 20, "color": "#1a1a1a"}, "encoding": {"x": {"field": "x", "type": "quantitative"}, "y": {"field": "y", "type": "quantitative"}, "text": {"field": "t"}}},
   {"data": {"values": [{"t": "\u03b4-", "x": 525.8, "y": 271.5}]}, "mark": {"type": "text", "align": "left", "baseline": "middle", "fontSize": 13, "color": "#1a1a1a"}, "encoding": {"x": {"field": "x", "type": "quantitative"}, "y": {"field": "y", "type": "quantitative"}, "text": {"field": "t"}}}
  ]},
  {"width": 6, "height": 287, "data": {"values": []}, "mark": "point", "view": {"stroke": null}},
  {"width": 288, "height": 287, "layer": [
   {"data": {"name": "dPts"}, "mark": {"type": "line", "strokeWidth": 2, "strokeDash": [5, 3]},
    "encoding": {
     "x": {"field": "x", "type": "quantitative", "scale": {"domain": [-0.41, 4.39], "nice": false, "zero": false}, "axis": {"title": "Reaction coordinates", "values": [0, 1, 2, 3, 4], "labelFontSize": 19, "labelExpr": "['*+CO\u2082','*CO\u2082','*COOH','*CO','CO'][datum.value]"}},
     "y": {"field": "g", "type": "quantitative", "scale": {"domain": [-0.6, 1.6], "nice": false, "zero": false}, "axis": {"title": "Free energy (eV)", "titlePadding": 2, "values": [-0.5, -0.25, 0, 0.25, 0.5, 0.75, 1, 1.25, 1.5], "labelExpr": "round(datum.value*100) % 50 == 0 ? replace(format(datum.value, '.1f'), '\u2212', '-') : ''"}},
     "color": {"field": "s", "type": "nominal", "scale": {"domain": ["H-AuMPs", "P-AuMPs", "AuNPs", "Au foil", "Au(111)", "Au(211)", "Tensile Au(111)", "Tensile Au(211)"], "range": ["#1d3a6e", "#2e86cf", "#a6a6a6", "#efb22c", "#eab02f", "#1d3a6e", "#a6a6a6", "#2e86cf"]}, "legend": null}}},
   {"data": {"name": "dPts"}, "transform": [{"filter": "datum.lv >= 1 && datum.lv <= 3"}], "mark": {"type": "line", "strokeWidth": 3}, "encoding": {"x": {"field": "x", "type": "quantitative"}, "y": {"field": "g", "type": "quantitative"}, "color": {"field": "s", "type": "nominal", "scale": {"domain": ["H-AuMPs", "P-AuMPs", "AuNPs", "Au foil", "Au(111)", "Au(211)", "Tensile Au(111)", "Tensile Au(211)"], "range": ["#1d3a6e", "#2e86cf", "#a6a6a6", "#efb22c", "#eab02f", "#1d3a6e", "#a6a6a6", "#2e86cf"]}, "legend": null}, "detail": {"field": "lv"}}},
   {"data": {"name": "dPts"}, "transform": [{"filter": "datum.s == 'Au(111)' && (datum.lv == 0 || datum.lv == 4)"}], "mark": {"type": "line", "strokeWidth": 3, "color": "#111111"}, "encoding": {"x": {"field": "x", "type": "quantitative"}, "y": {"field": "g", "type": "quantitative"}, "detail": {"field": "lv"}}},
   {"data": {"values": [{"t": "Au(111)", "s": "Au(111)", "x": 4.28, "g": 1.449}, {"t": "Au(211)", "s": "Au(211)", "x": 4.28, "g": 1.245}, {"t": "Tensile Au(111)", "s": "Tensile Au(111)", "x": 4.28, "g": -0.25}, {"t": "Tensile Au(211)", "s": "Tensile Au(211)", "x": 4.28, "g": -0.455}]}, "mark": {"type": "text", "align": "right", "baseline": "middle", "fontSize": 18}, "encoding": {"x": {"field": "x", "type": "quantitative"}, "y": {"field": "g", "type": "quantitative"}, "text": {"field": "t"}, "color": {"field": "s", "type": "nominal", "scale": {"domain": ["H-AuMPs", "P-AuMPs", "AuNPs", "Au foil", "Au(111)", "Au(211)", "Tensile Au(111)", "Tensile Au(211)"], "range": ["#1d3a6e", "#2e86cf", "#a6a6a6", "#efb22c", "#eab02f", "#1d3a6e", "#a6a6a6", "#2e86cf"]}, "legend": null}}},
   {"data": {"values": [{"t": "0.97 eV", "s": "Au(111)", "x": 1.32, "g": 0.965}, {"t": "0.80 eV", "s": "Au(211)", "x": 1.68, "g": 0.63}, {"t": "0.53 eV", "s": "Tensile Au(111)", "x": 1.3, "g": 0.02}, {"t": "0.46 eV", "s": "Tensile Au(211)", "x": 1.64, "g": -0.186}]}, "mark": {"type": "text", "align": "center", "baseline": "middle", "fontSize": 16, "fontStyle": "italic", "angle": 281}, "encoding": {"x": {"field": "x", "type": "quantitative"}, "y": {"field": "g", "type": "quantitative"}, "text": {"field": "t"}, "color": {"field": "s", "type": "nominal", "scale": {"domain": ["H-AuMPs", "P-AuMPs", "AuNPs", "Au foil", "Au(111)", "Au(211)", "Tensile Au(111)", "Tensile Au(211)"], "range": ["#1d3a6e", "#2e86cf", "#a6a6a6", "#efb22c", "#eab02f", "#1d3a6e", "#a6a6a6", "#2e86cf"]}, "legend": null}}},
   {"data": {"values": [{"t": "(d)", "x": -1.443, "g": 1.5}]}, "mark": {"type": "text", "align": "left", "baseline": "middle", "fontSize": 18, "color": "#3b2b20"}, "encoding": {"x": {"field": "x", "type": "quantitative"}, "y": {"field": "g", "type": "quantitative"}, "text": {"field": "t"}}}
  ]},
  {"width": 2, "height": 287, "data": {"values": []}, "mark": "point", "view": {"stroke": null}},
  {"width": 285, "height": 287, "layer": [
   {"data": {"name": "ePts"}, "mark": {"type": "line", "strokeWidth": 2, "strokeDash": [5, 3]},
    "encoding": {
     "x": {"field": "x", "type": "quantitative", "scale": {"domain": [-0.254, 2.218], "nice": false, "zero": false}, "axis": {"title": "Reaction coordinates", "values": [0, 1, 2], "labelFontSize": 20, "labelExpr": "['*+H\u207a+e\u207b','*H','1/2 H\u2082'][datum.value]"}},
     "y": {"field": "g", "type": "quantitative", "scale": {"domain": [-0.1, 1.405], "nice": false, "zero": false}, "axis": {"title": "Free energy (eV)", "titlePadding": 6, "values": [0, 0.2, 0.4, 0.6, 0.8, 1.0, 1.2], "labelExpr": "round(datum.value*10) % 4 == 0 ? format(datum.value, '.1f') : ''"}},
     "color": {"field": "s", "type": "nominal", "scale": {"domain": ["H-AuMPs", "P-AuMPs", "AuNPs", "Au foil", "Au(111)", "Au(211)", "Tensile Au(111)", "Tensile Au(211)"], "range": ["#1d3a6e", "#2e86cf", "#a6a6a6", "#efb22c", "#eab02f", "#1d3a6e", "#a6a6a6", "#2e86cf"]}, "legend": null}}},
   {"data": {"name": "ePts"}, "transform": [{"filter": "datum.lv == 1"}], "mark": {"type": "line", "strokeWidth": 3}, "encoding": {"x": {"field": "x", "type": "quantitative"}, "y": {"field": "g", "type": "quantitative"}, "color": {"field": "s", "type": "nominal", "scale": {"domain": ["H-AuMPs", "P-AuMPs", "AuNPs", "Au foil", "Au(111)", "Au(211)", "Tensile Au(111)", "Tensile Au(211)"], "range": ["#1d3a6e", "#2e86cf", "#a6a6a6", "#efb22c", "#eab02f", "#1d3a6e", "#a6a6a6", "#2e86cf"]}, "legend": null}}},
   {"data": {"name": "ePts"}, "transform": [{"filter": "datum.s == 'Au(111)' && datum.lv != 1"}], "mark": {"type": "line", "strokeWidth": 3, "color": "#111111"}, "encoding": {"x": {"field": "x", "type": "quantitative"}, "y": {"field": "g", "type": "quantitative"}, "detail": {"field": "lv"}}},
   {"data": {"values": [{"t": "Tensile Au(211)", "s": "Tensile Au(211)", "x": 2.197, "g": 1.326}, {"t": "Tensile Au(111)", "s": "Tensile Au(111)", "x": 2.197, "g": 1.198}, {"t": "Au(211)", "s": "Au(211)", "x": 2.197, "g": 0.539}, {"t": "Au(111)", "s": "Au(111)", "x": 2.197, "g": 0.408}]}, "mark": {"type": "text", "align": "right", "baseline": "middle", "fontSize": 18}, "encoding": {"x": {"field": "x", "type": "quantitative"}, "y": {"field": "g", "type": "quantitative"}, "text": {"field": "t"}, "color": {"field": "s", "type": "nominal", "scale": {"domain": ["H-AuMPs", "P-AuMPs", "AuNPs", "Au foil", "Au(111)", "Au(211)", "Tensile Au(111)", "Tensile Au(211)"], "range": ["#1d3a6e", "#2e86cf", "#a6a6a6", "#efb22c", "#eab02f", "#1d3a6e", "#a6a6a6", "#2e86cf"]}, "legend": null}}},
   {"data": {"values": [{"t": "1.13 eV", "x": 0.685, "g": 1.01}]}, "mark": {"type": "text", "align": "center", "baseline": "middle", "fontSize": 16, "fontStyle": "italic", "angle": 289, "color": "#2e86cf"}, "encoding": {"x": {"field": "x", "type": "quantitative"}, "y": {"field": "g", "type": "quantitative"}, "text": {"field": "t"}}},
   {"data": {"values": [{"t": "0.81 eV", "x": 0.7, "g": 0.72}]}, "mark": {"type": "text", "align": "center", "baseline": "middle", "fontSize": 16, "fontStyle": "italic", "angle": 295, "color": "#a6a6a6"}, "encoding": {"x": {"field": "x", "type": "quantitative"}, "y": {"field": "g", "type": "quantitative"}, "text": {"field": "t"}}},
   {"data": {"values": [{"t": "0.56 eV", "x": 0.62, "g": 0.45}]}, "mark": {"type": "text", "align": "center", "baseline": "middle", "fontSize": 16, "fontStyle": "italic", "angle": 303, "color": "#1d3a6e"}, "encoding": {"x": {"field": "x", "type": "quantitative"}, "y": {"field": "g", "type": "quantitative"}, "text": {"field": "t"}}},
   {"data": {"values": [{"t": "0.52 eV", "x": 0.68, "g": 0.32}]}, "mark": {"type": "text", "align": "center", "baseline": "middle", "fontSize": 16, "fontStyle": "italic", "angle": 305, "color": "#eab02f"}, "encoding": {"x": {"field": "x", "type": "quantitative"}, "y": {"field": "g", "type": "quantitative"}, "text": {"field": "t"}}},
   {"data": {"values": [{"t": "(e)", "x": -0.809, "g": 1.352}]}, "mark": {"type": "text", "align": "left", "baseline": "middle", "fontSize": 18, "color": "#3b2b20"}, "encoding": {"x": {"field": "x", "type": "quantitative"}, "y": {"field": "g", "type": "quantitative"}, "text": {"field": "t"}}}
  ]}
 ]}
]
}
